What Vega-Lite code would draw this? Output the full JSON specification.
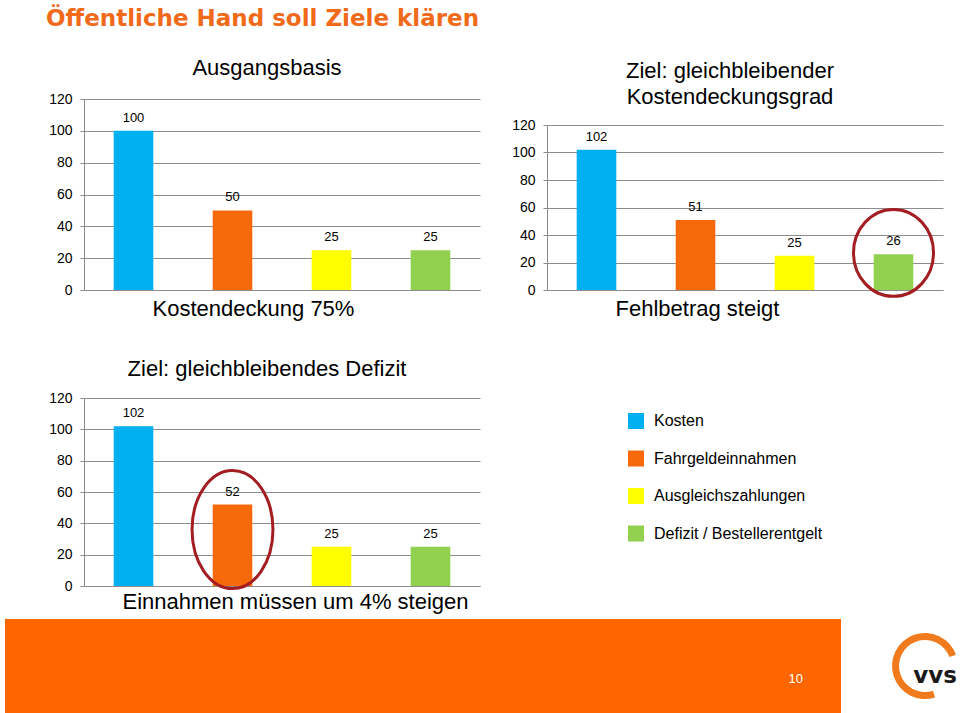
{
  "$schema": "https://vega.github.io/schema/vega-lite/v6.json",
  "padding": {"left": 5, "top": 8, "right": 0, "bottom": 0},
  "background": "white",
  "title": {"text": "Öffentliche Hand soll Ziele klären", "anchor": "start", "font": "DejaVu Sans", "fontWeight": "bold", "fontSize": 23, "color": "#F06A1A", "dx": 41, "offset": 26},
  "datasets": {
    "werte": [
      {"szenario": "Ausgangsbasis", "kategorie": "Kosten", "wert": 100},
      {"szenario": "Ausgangsbasis", "kategorie": "Fahrgeldeinnahmen", "wert": 50},
      {"szenario": "Ausgangsbasis", "kategorie": "Ausgleichszahlungen", "wert": 25},
      {"szenario": "Ausgangsbasis", "kategorie": "Defizit / Bestellerentgelt", "wert": 25},
      {"szenario": "Kostendeckungsgrad", "kategorie": "Kosten", "wert": 102},
      {"szenario": "Kostendeckungsgrad", "kategorie": "Fahrgeldeinnahmen", "wert": 51},
      {"szenario": "Kostendeckungsgrad", "kategorie": "Ausgleichszahlungen", "wert": 25},
      {"szenario": "Kostendeckungsgrad", "kategorie": "Defizit / Bestellerentgelt", "wert": 26},
      {"szenario": "Defizit", "kategorie": "Kosten", "wert": 102},
      {"szenario": "Defizit", "kategorie": "Fahrgeldeinnahmen", "wert": 52},
      {"szenario": "Defizit", "kategorie": "Ausgleichszahlungen", "wert": 25},
      {"szenario": "Defizit", "kategorie": "Defizit / Bestellerentgelt", "wert": 25}
    ]
  },
  "resolve": {"scale": {"color": "independent"}, "legend": {"color": "independent"}},
  "spacing": 7,
  "vconcat": [
    {
      "spacing": 0,
      "resolve": {"scale": {"color": "independent"}, "legend": {"color": "independent"}},
      "hconcat": [
        {"width": 1, "height": 1, "data": {"values": []}, "mark": {"type": "point", "opacity": 0}, "encoding": {}},
        {
          "spacing": 39,
          "resolve": {"scale": {"color": "independent"}, "legend": {"color": "independent"}},
          "vconcat": [
            {
              "spacing": 27,
              "resolve": {"scale": {"color": "independent"}, "legend": {"color": "independent"}},
              "hconcat": [
                {
                  "width": 396,
                  "height": 191,
                  "title": {"text": "Ausgangsbasis", "frame": "group", "dx": -15, "offset": 12},
                  "data": {"name": "werte"},
                  "transform": [{"filter": "datum.szenario === 'Ausgangsbasis'"}],
                  "encoding": {
                    "x": {"field": "kategorie", "type": "nominal", "sort": ["Kosten", "Fahrgeldeinnahmen", "Ausgleichszahlungen", "Defizit / Bestellerentgelt"], "scale": {"paddingInner": 0.6, "paddingOuter": 0.3}, "axis": {"labels": false, "ticks": false, "title": "Kostendeckung 75%", "titleX": 169, "titlePadding": 8}},
                    "y": {"field": "wert", "type": "quantitative", "scale": {"domain": [0, 120], "nice": false}, "axis": {"values": [0, 20, 40, 60, 80, 100, 120], "minExtent": 78, "title": null}}
                  },
                  "layer": [
                    {"mark": {"type": "bar"}, "encoding": {"color": {"field": "kategorie", "type": "nominal", "scale": {"domain": ["Kosten", "Fahrgeldeinnahmen", "Ausgleichszahlungen", "Defizit / Bestellerentgelt"], "range": ["#00B0F0", "#F66A0C", "#FFFF00", "#92D050"]}, "legend": null}}},
                    {"mark": {"type": "text", "dy": -9, "baseline": "alphabetic", "fontSize": 13, "color": "#000000"}, "encoding": {"text": {"field": "wert", "type": "quantitative", "format": "d"}}}
                  ]
                },
                {
                  "width": 396,
                  "height": 191,
                  "title": {"text": ["Ziel: gleichbleibender", "Kostendeckungsgrad"], "lineHeight": 26, "frame": "group", "dx": -15, "offset": -10},
                  "data": {"name": "werte"},
                  "transform": [{"filter": "datum.szenario === 'Kostendeckungsgrad'"}],
                  "encoding": {
                    "x": {"field": "kategorie", "type": "nominal", "sort": ["Kosten", "Fahrgeldeinnahmen", "Ausgleichszahlungen", "Defizit / Bestellerentgelt"], "scale": {"paddingInner": 0.6, "paddingOuter": 0.3}, "axis": {"labels": false, "ticks": false, "title": "Fehlbetrag steigt", "titleX": 150, "titlePadding": 8}},
                    "y": {"field": "wert", "type": "quantitative", "scale": {"domain": [0, 120], "nice": false, "range": [191, 26]}, "axis": {"values": [0, 20, 40, 60, 80, 100, 120], "minExtent": 40, "title": null}}
                  },
                  "layer": [
                    {"mark": {"type": "bar"}, "encoding": {"color": {"field": "kategorie", "type": "nominal", "scale": {"domain": ["Kosten", "Fahrgeldeinnahmen", "Ausgleichszahlungen", "Defizit / Bestellerentgelt"], "range": ["#00B0F0", "#F66A0C", "#FFFF00", "#92D050"]}, "legend": null}}},
                    {"mark": {"type": "text", "dy": -9, "baseline": "alphabetic", "fontSize": 13, "color": "#000000"}, "encoding": {"text": {"field": "wert", "type": "quantitative", "format": "d"}}},
                    {
                      "transform": [{"filter": "datum.kategorie === 'Defizit / Bestellerentgelt'"}],
                      "mark": {"type": "point", "shape": "M-0.92,0A0.92,1,0,1,0,0.92,0A0.92,1,0,1,0,-0.92,0Z", "size": 7569, "filled": false, "stroke": "#A31D22", "strokeWidth": 3, "opacity": 1},
                      "encoding": {"y": {"datum": 27}}
                    }
                  ]
                }
              ]
            },
            {
              "width": 396,
              "height": 188,
              "title": {"text": "Ziel: gleichbleibendes Defizit", "frame": "group", "dx": -15, "offset": 10},
              "data": {"name": "werte"},
              "transform": [{"filter": "datum.szenario === 'Defizit'"}],
              "encoding": {
                "x": {"field": "kategorie", "type": "nominal", "sort": ["Kosten", "Fahrgeldeinnahmen", "Ausgleichszahlungen", "Defizit / Bestellerentgelt"], "scale": {"paddingInner": 0.6, "paddingOuter": 0.3}, "axis": {"labels": false, "ticks": false, "title": "Einnahmen müssen um 4% steigen", "titleX": 211, "titlePadding": 5}},
                "y": {"field": "wert", "type": "quantitative", "scale": {"domain": [0, 120], "nice": false}, "axis": {"values": [0, 20, 40, 60, 80, 100, 120], "minExtent": 78, "title": null}}
              },
              "layer": [
                {"mark": {"type": "bar"}, "encoding": {"color": {"field": "kategorie", "type": "nominal", "scale": {"domain": ["Kosten", "Fahrgeldeinnahmen", "Ausgleichszahlungen", "Defizit / Bestellerentgelt"], "range": ["#00B0F0", "#F66A0C", "#FFFF00", "#92D050"]}, "legend": {"title": null, "orient": "none", "direction": "vertical", "legendX": 544, "legendY": 15, "padding": 0, "symbolType": "square", "symbolSize": 256, "symbolStrokeWidth": 0, "symbolOpacity": 1, "labelFont": "Liberation Sans", "labelFontSize": 16, "labelColor": "#000000", "labelOffset": 10, "rowPadding": 21.5, "labelLimit": 300}}}},
                {"mark": {"type": "text", "dy": -9, "baseline": "alphabetic", "fontSize": 13, "color": "#000000"}, "encoding": {"text": {"field": "wert", "type": "quantitative", "format": "d"}}},
                {
                  "transform": [{"filter": "datum.kategorie === 'Fahrgeldeinnahmen'"}],
                  "mark": {"type": "point", "shape": "M-0.686,0A0.686,1,0,1,0,0.686,0A0.686,1,0,1,0,-0.686,0Z", "size": 13924, "filled": false, "stroke": "#A31D22", "strokeWidth": 3, "opacity": 1},
                  "encoding": {"y": {"datum": 36}}
                }
              ]
            }
          ]
        }
      ]
    },
    {
      "spacing": 49,
      "hconcat": [
        {
          "width": 836,
          "height": 94,
          "view": {"fill": "#FF6600", "stroke": null},
          "data": {"values": [{"seite": "10"}]},
          "mark": {"type": "text", "color": "#FFFFFF", "fontSize": 13, "align": "center", "baseline": "middle"},
          "encoding": {
            "text": {"field": "seite", "type": "nominal"},
            "x": {"datum": 0.946, "type": "quantitative", "scale": {"domain": [0, 1]}, "axis": null},
            "y": {"datum": 0.36, "type": "quantitative", "scale": {"domain": [0, 1]}, "axis": null}
          }
        },
        {
          "width": 70,
          "height": 94,
          "data": {"values": [{"marke": "vvs"}]},
          "layer": [
            {"mark": {"type": "arc", "theta": -3.45, "theta2": 1.22, "innerRadius": 26, "outerRadius": 33, "color": "#F07A1C"}, "encoding": {}},
            {"mark": {"type": "text", "font": "DejaVu Sans", "fontWeight": "bold", "fontSize": 23, "color": "#1A1A1A", "dx": 10, "dy": 10}, "encoding": {"text": {"field": "marke", "type": "nominal"}}}
          ]
        }
      ]
    }
  ],
  "config": {
    "font": "Liberation Sans",
    "view": {"stroke": null},
    "title": {"font": "Liberation Sans", "fontSize": 22, "fontWeight": "normal", "color": "#000000"},
    "axis": {
      "gridColor": "#8C8C8C",
      "gridOpacity": 1,
      "domainColor": "#8C8C8C",
      "tickColor": "#8C8C8C",
      "tickSize": 4,
      "labelPadding": 8,
      "labelColor": "#000000",
      "labelFont": "Liberation Sans",
      "labelFontSize": 14,
      "titleFont": "Liberation Sans",
      "titleFontSize": 22,
      "titleFontWeight": "normal",
      "titleColor": "#000000"
    }
  }
}
